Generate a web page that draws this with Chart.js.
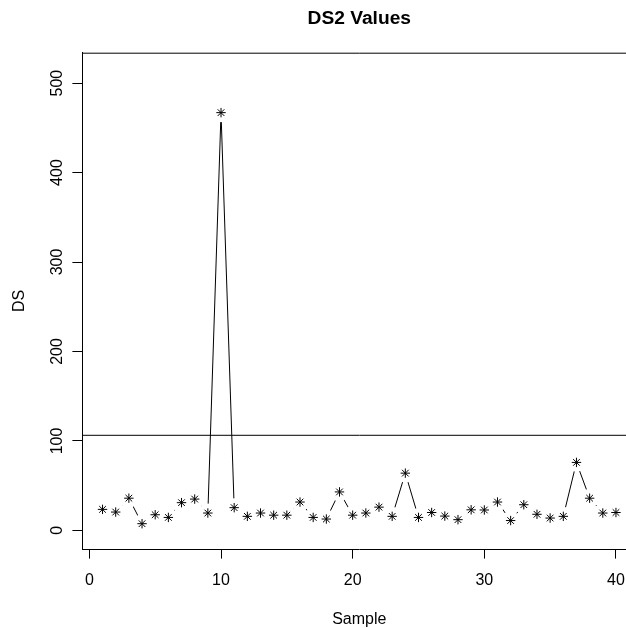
<!DOCTYPE html>
<html>
<head>
<meta charset="utf-8">
<script src="https://cdn.jsdelivr.net/npm/chart.js@4.4.0/dist/chart.umd.min.js"></script>
<style>
    html, body { margin: 0; padding: 0; background: #fff; overflow: hidden; }
    #wrap { width: 660px; height: 628px; }
</style>
</head>
<body>
<div id="wrap"><canvas id="myChart" width="660" height="628"></canvas></div>
<script>
// sample index 1..40
const samples = [1, 2, 3, 4, 5, 6, 7, 8, 9, 10, 11, 12, 13, 14, 15, 16, 17, 18, 19, 20,
    21, 22, 23, 24, 25, 26, 27, 28, 29, 30, 31, 32, 33, 34, 35, 36, 37, 38, 39, 40];

// DS2 values
const ds2Values = [23.5, 20.5, 36, 7.5, 17.5, 14.5, 31, 35, 19.4, 467,
    25.4, 15.7, 19.4, 17, 17, 31.7, 14.5, 12.7, 43, 17,
    19.4, 26, 15.7, 64, 14.5, 20, 16, 12, 23, 22.8,
    31.7, 11, 28.7, 18, 13.8, 15.7, 76, 36, 19.4, 20];

const thresholdValue = 106.3;

const xTickValues = [0, 10, 20, 30, 40];
const yTickValues = [0, 100, 200, 300, 400, 500];

const titleText = 'DS2 Values';
const xTitle = 'Sample';
const yTitle = 'DS';

const FONT = '"Liberation Sans", Arial, Helvetica, sans-serif';

const points = samples.map((s, i) => ({ x: s, y: ds2Values[i] }));

// text like base R: title, axis titles, tick labels + the top edge of the box
const rTextPlugin = {
    id: 'rText',
    afterDraw(chart) {
        const ctx = chart.ctx;
        const area = chart.chartArea;
        const xs = chart.scales.x;
        const ys = chart.scales.y;
        const cx = (area.left + area.right) / 2;
        ctx.save();

        ctx.strokeStyle = '#000';
        ctx.lineWidth = 1;
        ctx.beginPath();
        ctx.moveTo(area.left, area.top + 0.5);
        ctx.lineTo(area.right, area.top + 0.5);
        ctx.stroke();

        ctx.fillStyle = '#000';
        ctx.textBaseline = 'alphabetic';
        ctx.textAlign = 'center';

        ctx.font = 'bold 19.2px ' + FONT;
        ctx.fillText(titleText, cx, 24);

        ctx.font = '16px ' + FONT;
        xTickValues.forEach(v => {
            ctx.fillText(String(v), xs.getPixelForValue(v), 584.5);
        });
        ctx.fillText(xTitle, cx, 623.5);

        yTickValues.forEach(v => {
            ctx.save();
            ctx.translate(62, ys.getPixelForValue(v));
            ctx.rotate(-Math.PI / 2);
            ctx.fillText(String(v), 0, 0);
            ctx.restore();
        });

        ctx.save();
        ctx.translate(23.7, (area.top + area.bottom) / 2);
        ctx.rotate(-Math.PI / 2);
        ctx.fillText(yTitle, 0, 0);
        ctx.restore();

        ctx.restore();
    }
};

const config = {
    type: 'line',
    data: {
        datasets: [
            {
                // asterisks on top
                label: 'stars',
                data: points,
                showLine: false,
                pointStyle: 'star',
                pointRadius: 4.7,
                pointBorderColor: '#000',
                pointBorderWidth: 1,
                order: 1,
            },
            {
                // connecting line, white discs cut the gaps like type = "b"
                label: 'line',
                data: points,
                borderColor: '#000',
                borderWidth: 1,
                tension: 0,
                pointStyle: 'circle',
                pointRadius: 9.5,
                pointBackgroundColor: '#fff',
                pointBorderWidth: 0,
                order: 2,
            },
            {
                label: 'threshold',
                data: [{ x: -5, y: thresholdValue }, { x: 50, y: thresholdValue }],
                borderColor: '#000',
                borderWidth: 1,
                pointRadius: 0,
                order: 3,
            }
        ]
    },
    options: {
        responsive: false,
        devicePixelRatio: 1,
        animation: false,
        events: [],
        layout: { padding: { left: 0, top: 52.7, right: 23.5, bottom: 0 } },
        plugins: {
            legend: { display: false },
            title: { display: false },
            tooltip: { enabled: false }
        },
        scales: {
            x: {
                type: 'linear',
                position: 'bottom',
                min: -0.56,
                max: 41.56,
                afterBuildTicks: s => { s.ticks = xTickValues.map(v => ({ value: v })); },
                afterFit: s => { s.height = 79; },
                ticks: { display: false },
                grid: { drawOnChartArea: false, drawTicks: true, tickLength: 9.6, tickColor: '#000', tickWidth: 1 },
                border: { display: true, color: '#000', width: 1 }
            },
            y: {
                type: 'linear',
                position: 'left',
                min: -20.8,
                max: 534,
                afterBuildTicks: s => { s.ticks = yTickValues.map(v => ({ value: v })); },
                afterFit: s => { s.width = 82; },
                ticks: { display: false },
                grid: { drawOnChartArea: false, drawTicks: true, tickLength: 9.6, tickColor: '#000', tickWidth: 1 },
                border: { display: true, color: '#000', width: 1 }
            }
        }
    },
    plugins: [rTextPlugin]
};

const myChart = new Chart(document.getElementById('myChart'), config);
</script>
</body>
</html>
